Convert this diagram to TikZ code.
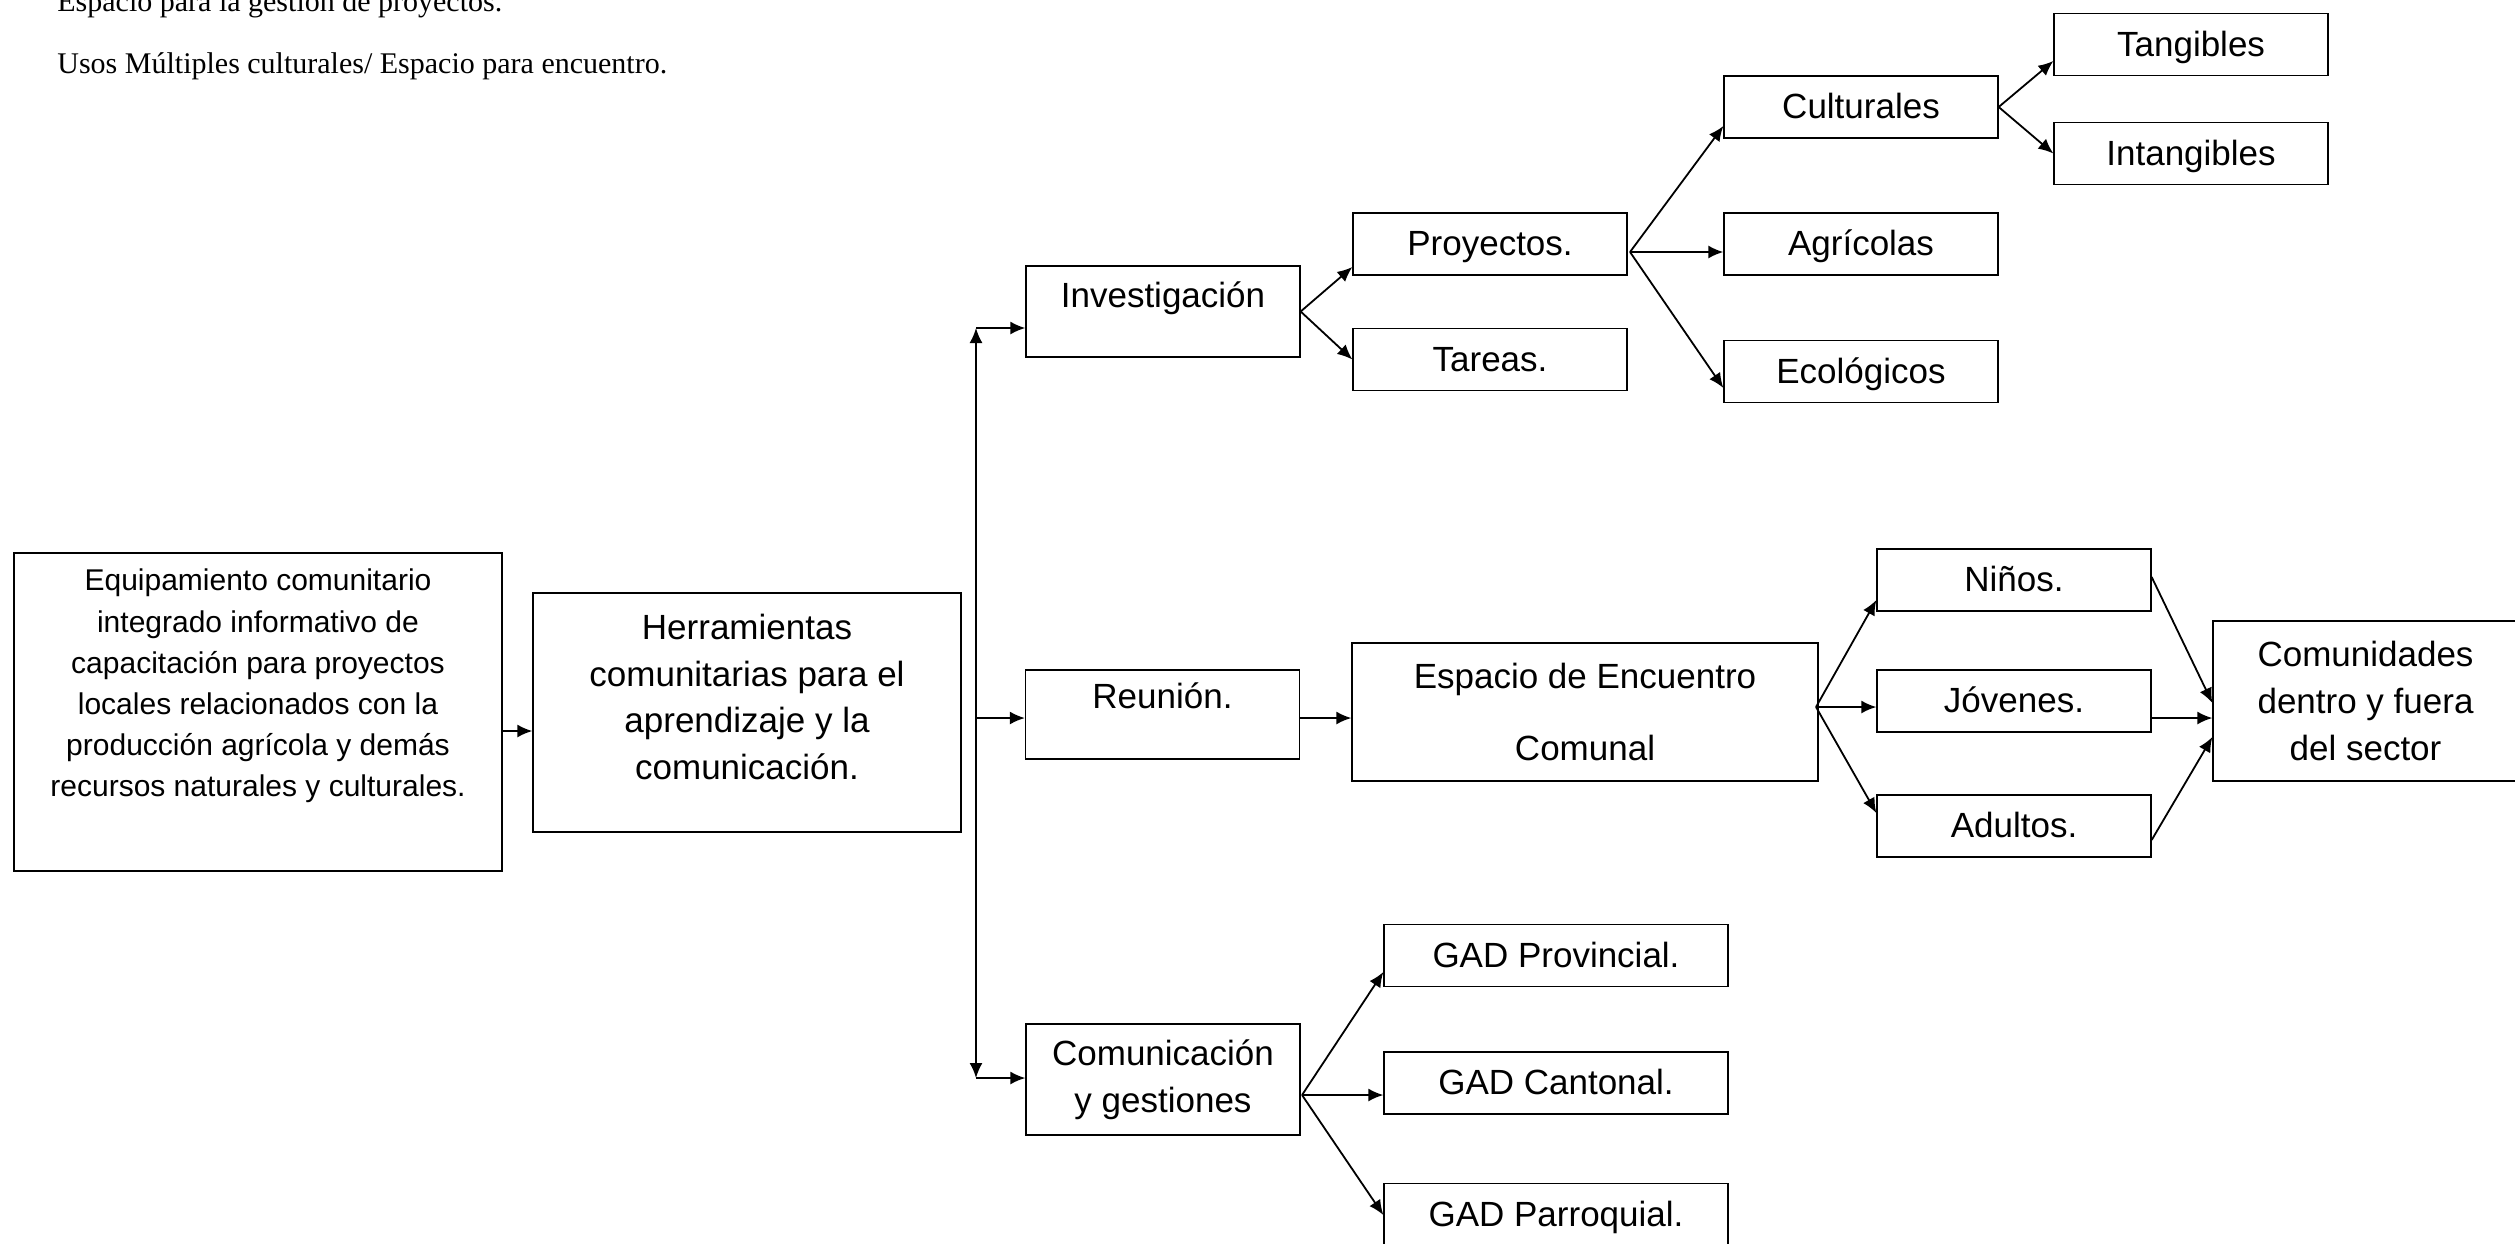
\documentclass[tikz,border=0pt]{standalone}
\usepackage{fontspec}
\setmainfont{Liberation Serif}
\newfontfamily\arial{Liberation Sans}
\usepackage{tikz}
\usetikzlibrary{arrows.meta}

\tikzset{
  caja/.style={draw,line width=0.65pt,inner sep=0pt,minimum width=137pt,minimum height=31pt,
    font=\arial\fontsize{17.5pt}{23.3pt}\selectfont,text height=13pt,text depth=1.5pt},
  multi/.style={draw,line width=0.65pt,inner sep=0pt,align=center,
    font=\arial\fontsize{17.5pt}{23.3pt}\selectfont},
  flecha/.style={-{Latex[length=7.5pt,width=6.5pt]},line width=0.9pt},
  doble/.style={{Latex[length=7.5pt,width=6.5pt]}-{Latex[length=7.5pt,width=6.5pt]},line width=0.9pt},
  nota/.style={anchor=base west,inner sep=0pt,font=\fontsize{15pt}{18pt}\selectfont}
}

\begin{document}
\begin{tikzpicture}[x=0.5pt,y=-0.5pt]
\clip (0,0) rectangle (2515,1243);
\fill[white] (0,0) rectangle (2515,1243);

\node[nota] (gestion) at (57,11.5) {Espacio para la gestión de proyectos.};
\node[nota] (usos) at (57,73) {Usos Múltiples culturales/ Espacio para encuentro.};

\node[multi,minimum width=244pt,minimum height=159pt,font=\arial\fontsize{15pt}{20.6pt}\selectfont] (equip) at (258,712)
  {Equipamiento comunitario\\integrado informativo de\\capacitación para proyectos\\locales relacionados con la\\producción agrícola y demás\\recursos naturales y culturales.\rule[-29pt]{0pt}{0pt}};
\node[multi,minimum width=214pt,minimum height=119.5pt] (herr) at (747,712.5)
  {Herramientas\\comunitarias para el\\aprendizaje y la\\comunicación.\rule[-15.5pt]{0pt}{0pt}};

\node[caja,minimum height=45.5pt,text depth=17.5pt] (invest) at (1163,311.5) {Investigación};
\node[caja,minimum height=44.5pt,text depth=19pt] (reun) at (1162.5,714.5) {Reunión.};
\node[multi,minimum width=137pt,minimum height=55.5pt] (comg) at (1163,1079.5) {Comunicación\\y gestiones};

\node[caja] (proy) at (1490,244) {Proyectos.};
\node[caja] (tareas) at (1490,359.5) {Tareas.};
\node[caja] (cult) at (1861,107) {Culturales};
\node[caja] (agri) at (1861,244) {Agrícolas};
\node[caja] (ecol) at (1861,371.5) {Ecológicos};
\node[caja] (tang) at (2191,44.5) {Tangibles};
\node[caja] (intang) at (2191,153.5) {Intangibles};

\node[multi,minimum width=233pt,minimum height=69pt,font=\arial\fontsize{17.5pt}{36pt}\selectfont] (esp) at (1585,712)
  {Espacio de Encuentro\\Comunal};
\node[caja] (ninos) at (2014,580) {Niños.};
\node[caja] (jov) at (2014,701) {Jóvenes.};
\node[caja] (adul) at (2014,826) {Adultos.};
\node[multi,minimum width=152.5pt,minimum height=80pt] (comun) at (2365.5,701)
  {Comunidades\\dentro y fuera\\del sector};

\node[caja,minimum width=172pt] (prov) at (1556,955.5) {GAD Provincial.};
\node[caja,minimum width=172pt] (cant) at (1556,1083) {GAD Cantonal.};
\node[caja,minimum width=172pt] (parr) at (1556,1214.5) {GAD Parroquial.};

% tronco vertical
\coordinate (tr1) at (976,328);
\coordinate (tr2) at (976,718);
\coordinate (tr3) at (976,1078);
\draw[flecha] (equip.east |- 0,731) -- (herr.west |- 0,731);
\draw[doble] (tr1) -- (tr3);
\draw[flecha] (tr1) -- (invest.west |- tr1);
\draw[flecha] (tr2) -- (reun.west |- tr2);
\draw[flecha] (tr3) -- (comg.west |- tr3);

% investigacion
\draw[flecha] (invest.east) -- (proy.west |- 0,267);
\draw[flecha] (invest.east) -- (tareas.west);
\coordinate (pf) at (1630,252);
\draw[flecha] (pf) -- (cult.west |- 0,126);
\draw[flecha] (pf) -- (agri.west |- pf);
\draw[flecha] (pf) -- (ecol.west |- 0,388);
\draw[flecha] (cult.east) -- (tang.west |- 0,61);
\draw[flecha] (cult.east) -- (intang.west);

% reunion
\draw[flecha] (reun.east |- 0,718) -- (esp.west |- 0,718);
\coordinate (ef) at (1816,707);
\draw[flecha] (ef) -- (ninos.west |- 0,600);
\draw[flecha] (ef) -- (jov.west |- ef);
\draw[flecha] (ef) -- (adul.west |- 0,813);
\draw[flecha] (ninos.east |- 0,577) -- (comun.west |- 0,703);
\draw[flecha] (jov.east |- 0,718) -- (comun.west |- 0,718);
\draw[flecha] (adul.east |- 0,840) -- (comun.west |- 0,737);

% comunicacion
\coordinate (cf) at (1302,1095);
\draw[flecha] (cf) -- (prov.west |- 0,972);
\draw[flecha] (cf) -- (cant.west |- cf);
\draw[flecha] (cf) -- (parr.west |- 0,1215);

\end{tikzpicture}
\end{document}
